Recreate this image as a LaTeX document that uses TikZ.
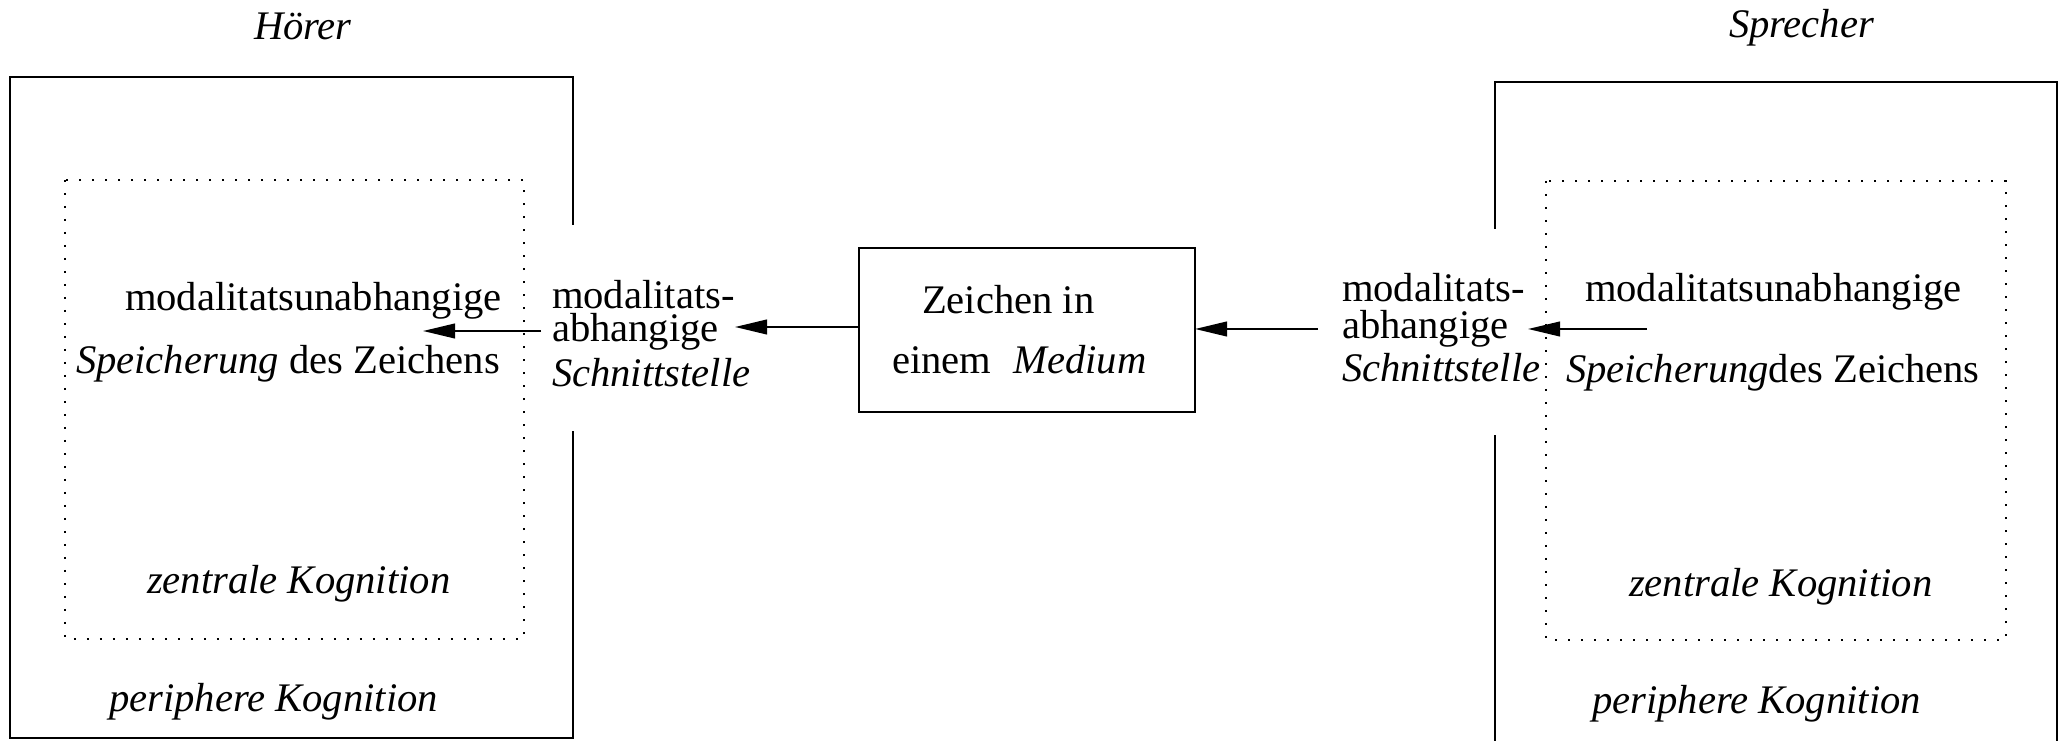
\documentclass[tikz,border=0pt]{standalone}
\usepackage{fontspec}
\setmainfont{Liberation Serif}
\usetikzlibrary{arrows.meta}
\begin{document}
\begin{tikzpicture}[x=0.3pt,y=-0.3pt,
  every node/.style={inner sep=0pt,outer sep=0pt,font=\fontsize{12.18}{14}\selectfont},
  txt/.style={anchor=base west},
  frame/.style={line width=0.6pt,line join=miter},
  dotbox/.style={line width=0.6pt,dash pattern=on 0.6pt off 3.3pt},
  mbox/.style={draw,line width=0.7pt,minimum width=100.8pt,minimum height=49.2pt},
  arr/.style={line width=0.6pt,-{Triangle[length=9.6pt,width=4.4pt]}}]
\useasboundingbox (0,0) rectangle (2065,741);

% outer frames (peripheral cognition)
\draw[frame] (573,225) -- (573,77) -- (10,77) -- (10,738) -- (573,738) -- (573,431);
\draw[frame] (1495,229) -- (1495,82) -- (2057,82) -- (2057,741);
\draw[frame] (1495,435) -- (1495,741);

% inner dotted frames (central cognition)
\draw[dotbox] (65,180) rectangle (524,639);
\draw[dotbox] (1546,181) rectangle (2006,640);

% titles
\node[txt] (hoerer) at (254,40) {\itshape Hörer};
\node[txt] (sprecher) at (1729,38) {\itshape Sprecher};

% left side (listener)
\node[txt] (lunab) at (125,311) {modalitatsunabhangige};
\node[txt] (lspeich) at (76,374) {\textit{Speicherung} des Zeichens};
\node[txt] (lmodA) at (552,309) {modalitats-};
\node[txt] (lmodB) at (552,342) {abhangige};
\node[txt] (lmodC) at (552,387) {\itshape Schnittstelle};
\node[txt] (lzent) at (147,593) {\itshape zentrale Kognition};
\node[txt] (lperi) at (109,711) {\itshape periphere Kognition};

% medium
\node[mbox] (medium) at (1027,330) {};
\node[txt] (zeichA) at (922,314) {Zeichen in};
\node[txt] (zeichB) at (892,373) {einem\hspace{0.55em}\textit{Medium}};

% right side (speaker)
\node[txt] (rmodA) at (1342,302) {modalitats-};
\node[txt] (rmodB) at (1342,339) {abhangige};
\node[txt] (rmodC) at (1342,382) {\itshape Schnittstelle};
\node[txt] (runab) at (1585,302) {modalitatsunabhangige};
\node[txt] (rspeich) at (1566,383) {\textit{Speicherung}des Zeichens};
\node[txt] (rzent) at (1629,596) {\itshape zentrale Kognition};
\node[txt] (rperi) at (1592,713) {\itshape periphere Kognition};

% arrow end points
\coordinate (a1t) at (735,327);
\coordinate (a2s) at (541,331);
\coordinate (a2t) at (423,331);
\coordinate (a3s) at (1318,329);
\coordinate (a4s) at (1647,329);
\coordinate (a4t) at (1528,329);

\draw[arr] (medium.west |- a1t) -- (a1t);
\draw[arr] (a2s) -- (a2t);
\draw[arr] (a3s) -- (medium.east |- a3s);
\draw[arr] (a4s) -- (a4t);
\end{tikzpicture}
\end{document}
